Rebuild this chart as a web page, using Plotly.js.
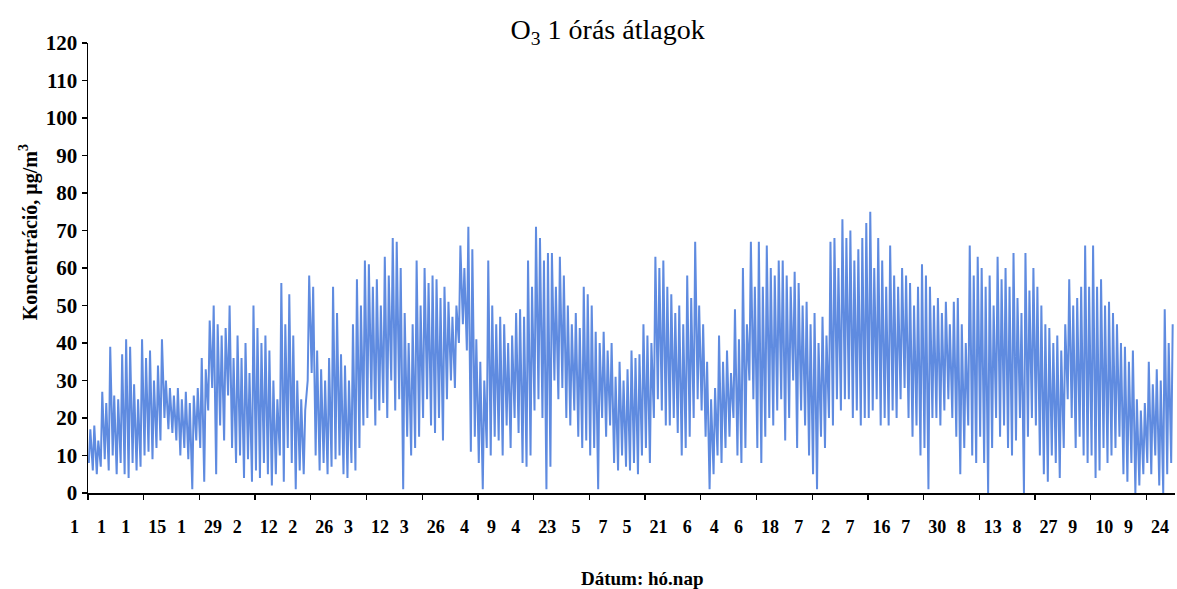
<!DOCTYPE html>
<html>
<head>
<meta charset="utf-8">
<script src="https://cdn.plot.ly/plotly-3.0.1.min.js"></script>
<style>
  html, body { margin: 0; padding: 0; background: #ffffff; }
  #chart { width: 1177px; height: 589px; }
</style>
</head>
<body>
<div id="chart"></div>
<script>
// Hourly ozone, summarised per day as the daily peak and the daily low (µg/m³), Jan 1 – Sep 30.
const dailyMax = [
  17,18,14,27,24,39,26,25,37,41,39,29,25,41,
  36,38,30,34,41,30,28,26,28,25,27,24,26,28,
  36,33,46,50,45,42,44,50,36,42,36,40,32,50,
  44,40,42,38,30,25,56,45,53,42,30,25,22,58,
  55,38,33,30,36,55,48,37,34,30,45,57,50,62,
  61,55,57,50,63,58,68,67,60,48,40,45,62,50,
  60,56,58,57,52,55,51,47,50,66,60,71,65,41,
  35,30,62,50,45,47,45,40,42,48,49,47,62,55,
  71,68,62,64,64,55,63,58,50,45,48,44,55,53,
  50,43,40,43,38,40,31,35,30,33,38,36,37,45,
  42,40,63,60,62,55,53,48,50,45,58,52,67,50,
  45,35,25,28,42,35,38,32,49,41,60,45,67,55,
  67,55,66,60,58,62,62,58,55,59,56,50,51,45,
  48,40,47,42,67,68,60,73,68,70,62,65,68,72,
  75,60,68,62,55,66,58,55,60,58,56,50,55,61,
  58,55,50,52,48,51,45,51,52,45,40,66,58,63,
  60,55,58,50,63,57,60,55,64,52,48,64,54,60,
  55,50,45,44,40,42,38,45,57,50,52,55,66,55,
  66,55,57,50,51,48,45,40,39,35,38,25,22,24,
  35,29,33,30,49,40,45
];
const dailyMin = [
  8,6,5,7,9,6,10,5,8,5,4,8,6,7,
  10,11,9,12,14,20,17,16,14,10,12,9,1,14,
  12,3,22,28,5,18,14,26,12,8,10,4,9,3,
  6,4,8,5,2,5,10,3,12,8,1,6,5,30,
  32,10,6,8,5,7,9,10,5,4,8,6,12,18,
  20,25,18,22,24,20,30,22,25,1,15,10,12,15,
  20,25,18,16,20,14,25,30,28,40,45,38,11,15,
  8,1,12,10,15,14,10,18,12,20,16,8,7,10,
  22,25,20,1,7,30,25,28,20,18,22,15,12,14,
  10,12,1,20,15,18,8,6,10,7,6,8,5,10,
  12,8,20,25,22,18,18,20,16,10,12,15,20,25,
  22,15,1,5,10,8,12,15,20,10,8,12,30,25,
  12,8,15,20,18,22,25,14,20,30,12,22,18,10,
  5,1,15,12,20,18,25,22,25,25,20,22,18,20,
  20,22,25,18,20,18,22,20,25,28,20,15,18,10,
  12,1,20,20,18,22,25,20,15,5,12,18,10,8,
  15,8,0,12,20,15,18,12,10,14,20,0,15,20,
  18,10,5,3,10,8,4,12,25,20,12,15,10,8,
  10,4,6,12,8,10,12,15,5,3,8,0,2,5,
  8,5,10,2,0,5,8
];

// Axis labels: "month day" every two weeks
const tickDates = [
  '2007-01-01','2007-01-15','2007-01-29','2007-02-12','2007-02-26',
  '2007-03-12','2007-03-26','2007-04-09','2007-04-23','2007-05-07',
  '2007-05-21','2007-06-04','2007-06-18','2007-07-02','2007-07-16',
  '2007-07-30','2007-08-13','2007-08-27','2007-09-10','2007-09-24'
];
const tickMonths = [1,1,1,2,2,3,3,4,4,5,5,6,6,7,7,7,8,8,9,9];
const tickDays   = [1,15,29,12,26,12,26,9,23,7,21,4,18,2,16,30,13,27,10,24];

const startDate = '2007-01-01';
const lowHour = 5, highHour = 14;

// Build the day-by-day zigzag: low in the early morning, peak in the afternoon.
const base = Date.parse(startDate + 'T00:00:00Z');
function stamp(day, hour) {
  return new Date(base + day * 86400000 + hour * 3600000)
    .toISOString().slice(0, 16).replace('T', ' ');
}
const xs = [], ys = [];
for (let d = 0; d < dailyMax.length; d++) {
  xs.push(stamp(d, lowHour));  ys.push(dailyMin[d]);
  xs.push(stamp(d, highHour)); ys.push(dailyMax[d]);
}

const gap = '\u00a0\u00a0\u00a0\u00a0';
const tickText = tickMonths.map((m, i) => m + gap + tickDays[i]);

const serif = 'Liberation Serif, Times New Roman, serif';

const trace = {
  x: xs, y: ys,
  type: 'scatter', mode: 'lines',
  line: { color: '#5f8be0', width: 2.0 },
  hoverinfo: 'skip'
};

const layout = {
  width: 1177, height: 589,
  margin: { l: 88, r: 2, t: 43, b: 96 },
  paper_bgcolor: '#ffffff', plot_bgcolor: '#ffffff',
  showlegend: false,
  title: {
    text: 'O<sub>3</sub> 1 órás átlagok',
    font: { family: serif, size: 28, color: '#000000' },
    x: 0.478, xref: 'paper', xanchor: 'center',
    y: 0.95, yref: 'container', yanchor: 'middle'
  },
  xaxis: {
    type: 'date',
    range: ['2007-01-01', '2007-10-01 04:00'],
    tickmode: 'array', tickvals: tickDates, ticktext: tickText,
    ticks: 'outside', ticklen: 5, tickwidth: 1.3, tickcolor: '#000000',
    ticklabelstandoff: 12,
    tickfont: { family: serif, size: 18, color: '#000000', weight: 'bold' },
    showline: true, linecolor: '#000000', linewidth: 1.5,
    showgrid: false, zeroline: false, fixedrange: true
  },
  yaxis: {
    range: [0, 120], dtick: 10, tick0: 0,
    ticks: 'outside', ticklen: 5, tickwidth: 1.3, tickcolor: '#000000',
    tickfont: { family: serif, size: 21, color: '#000000', weight: 'bold' },
    showline: true, linecolor: '#000000', linewidth: 1.5,
    showgrid: false, zeroline: false, fixedrange: true
  },
  annotations: [
    {
      text: 'Koncentráció, μg/m<sup>3</sup>',
      xref: 'paper', yref: 'paper',
      x: -0.055, y: 0.58, xanchor: 'center', yanchor: 'middle',
      textangle: -90, showarrow: false,
      font: { family: serif, size: 20, color: '#000000', weight: 'bold' }
    },
    {
      text: 'Dátum: hó.nap',
      xref: 'paper', yref: 'paper',
      x: 0.51, y: -0.19, xanchor: 'center', yanchor: 'middle',
      showarrow: false,
      font: { family: serif, size: 19, color: '#000000', weight: 'bold' }
    }
  ]
};

Plotly.newPlot('chart', [trace], layout, { displayModeBar: false, staticPlot: true });
</script>
</body>
</html>
